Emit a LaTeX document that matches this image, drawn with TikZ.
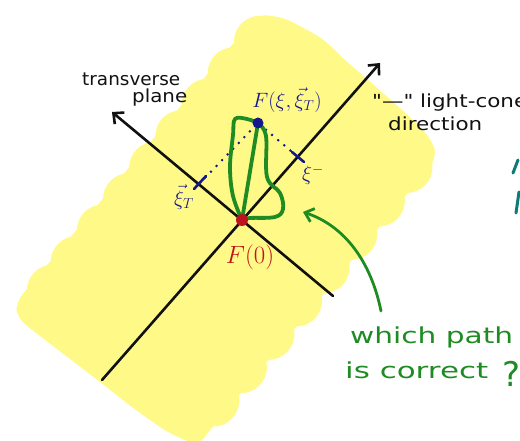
\documentclass[tikz,border=0pt]{standalone}
\usepackage{fontspec}
\usepackage{graphicx}
\usetikzlibrary{arrows.meta,calc}
\newfontfamily\hand{DejaVu Sans}
\definecolor{hlyellow}{HTML}{FFFA88}
\definecolor{axisblack}{HTML}{111111}
\definecolor{inkblue}{HTML}{15178F}
\definecolor{inkgreen}{HTML}{1E8C23}
\definecolor{inkred}{HTML}{C0121C}
\definecolor{inkteal}{HTML}{0E7B7B}
\newcommand\hw[2]{\resizebox{#1}{\height}{#2}}
\begin{document}
\begin{tikzpicture}[x=1pt,y=-1pt,
  axisline/.style={line width=2.6pt, draw=axisblack, line cap=round},
  axisarrow/.style={axisline, -{Straight Barb[length=8pt,width=15pt,line width=2.6pt]}},
  greenpath/.style={draw=inkgreen, line width=3.8pt, line cap=round, line join=round},
  dotline/.style={draw=inkblue, line width=2.8pt, line cap=round, dash pattern=on 0pt off 8pt},
  tickmark/.style={draw=inkblue, line width=2.6pt, line cap=round},
  blacktext/.style={anchor=base west, inner sep=0pt, text=axisblack, font=\hand\fontsize{18}{20}\selectfont},
  greentext/.style={anchor=base west, inner sep=0pt, text=inkgreen, font=\hand\fontsize{22}{24}\selectfont},
  bluelabel/.style={inner sep=0pt, text=inkblue, font=\fontsize{20}{22}\selectfont},
  scallop/.style={fill=hlyellow}
]
\useasboundingbox (0,0) rectangle (520,441);

% yellow highlighted region
\fill[hlyellow, rounded corners=10pt]
  (258,14) -- (285,18) -- (322,38) -- (345,60) -- (383,93) -- (410,117) -- (432,140) -- (437,158)
  -- (202,440) -- (198,446) -- (167,432) -- (133,408) -- (100,382) -- (40,336) -- (17,318) -- (16,302) -- cycle;
\coordinate (TL1) at (258,16);
\coordinate (TL2) at (20,302);
\foreach \t in {0.05,0.16,0.27,0.38,0.49,0.6,0.71,0.82,0.92}
  \fill[scallop] ($(TL1)!\t!(TL2)$) ++(13.8,11.5) circle (26pt);
\coordinate (RB1) at (434,162);
\coordinate (RB2) at (204,440);
\foreach \t in {0.06,0.18,0.3,0.42,0.54,0.66,0.78,0.9}
  \fill[scallop] ($(RB1)!\t!(RB2)$) ++(-13.7,-11.6) circle (26pt);

% axes
\coordinate (O) at (242,220);
\coordinate (aA1) at (102,380);
\coordinate (aA2) at (380,63);
\coordinate (aB1) at (333,296);
\coordinate (aB2) at (112,112);
\draw[axisarrow] (aA1) -- (aA2);
\draw[axisarrow] (aB1) -- (aB2);

% point and projections
\coordinate (P) at (258,123);
\coordinate (tickL) at (200,183);
\coordinate (tickR) at (298,157);
\draw[dotline] ($(P)!0.14!(tickL)$) -- ($(P)!0.93!(tickL)$);
\draw[dotline] ($(P)!0.2!(tickR)$) -- ($(P)!0.9!(tickR)$);
\draw[tickmark] (194,189) -- (206,176);
\draw[tickmark] (292,152) -- (304,162);

% green paths
\draw[greenpath] (O) -- (P);
\draw[greenpath] plot[smooth, tension=0.6] coordinates
  {(O) (233,196) (230,167) (233,135) (235,119) (247,119) (P)};
\draw[greenpath] plot[smooth, tension=0.6] coordinates
  {(P) (266,136) (267,177) (280,193) (283,209) (275,217) (250,218) (O)};

% dots
\fill[inkred] (O) circle (6pt);
\fill[inkblue] (P) circle (5.5pt);

% labels
\node[bluelabel] (Flab) at (287,100) {$F(\xi,\vec{\xi}_T)$};
\node[bluelabel] (xim) at (313,175) {$\xi^-$};
\node[bluelabel] (xiT) at (184,197) {$\vec{\xi}_T$};
\node[inner sep=0pt, text=inkred, font=\fontsize{23}{25}\selectfont] (F0) at (250,257) {$F(0)$};

\node[blacktext] (tr1) at (82,86) {\hw{98pt}{transverse}};
\node[blacktext] (tr2) at (132,103) {\hw{55pt}{plane}};
\node[blacktext] (lc1) at (372,108) {\hw{155pt}{"—" light-cone}};
\node[blacktext] (lc2) at (388,131) {\hw{94pt}{direction}};

% question
\node[greentext] (q1) at (350,343) {\hw{163pt}{which path}};
\node[greentext] (q2) at (345,378) {\hw{143pt}{is correct}};
\node[greentext, font=\hand\fontsize{34}{36}\selectfont] (q3) at (502,386) {?};
\coordinate (qstart) at (381,311);
\coordinate (qend) at (303,212);
\draw[greenpath, line width=2.8pt, -{Straight Barb[length=8pt,width=14pt,line width=2.8pt]}]
  (qstart) .. controls (371,262) and (345,226) .. (qend);

% teal fragments at right edge
\draw[draw=inkteal, line width=3pt, line cap=round] (518,160) -- (513,173);
\draw[draw=inkteal, line width=3pt, line cap=round] (519,192) -- (516,213);
\end{tikzpicture}
\end{document}
